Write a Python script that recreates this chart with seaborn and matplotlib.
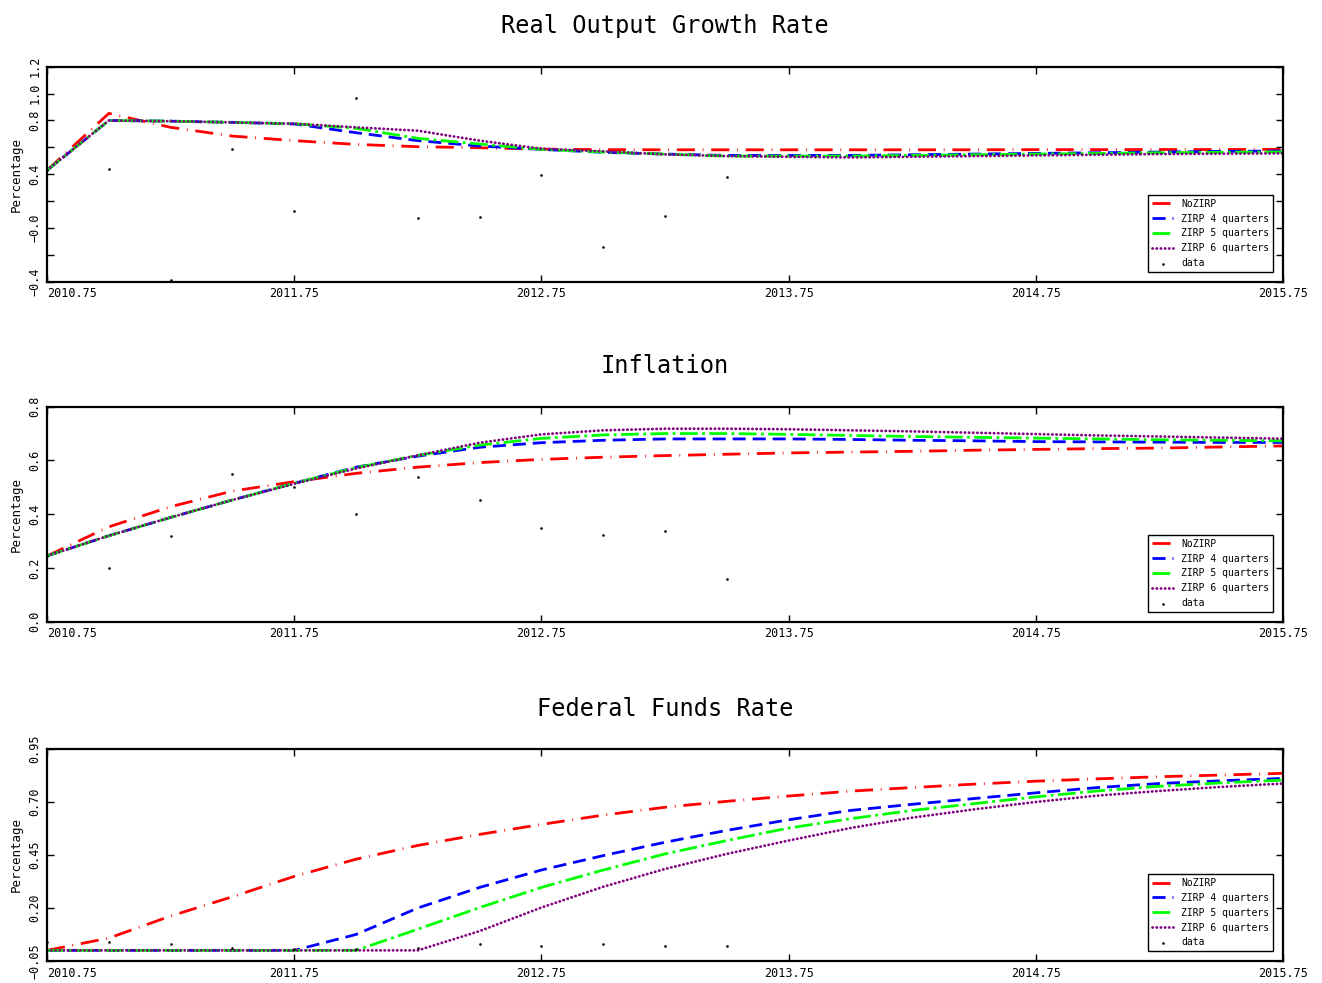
import numpy as np
import pandas as pd
import matplotlib
matplotlib.use("Agg")
import matplotlib.pyplot as plt
import seaborn as sns

# quarters of the simulation
quarters = [2010.75, 2011.0, 2011.25, 2011.5, 2011.75, 2012.0, 2012.25, 2012.5,
            2012.75, 2013.0, 2013.25, 2013.5, 2013.75, 2014.0, 2014.25, 2014.5,
            2014.75, 2015.0, 2015.25, 2015.5, 2015.75]
data_quarters = [2010.75, 2011.0, 2011.25, 2011.5, 2011.75, 2012.0, 2012.25,
                 2012.5, 2012.75, 2013.0, 2013.25, 2013.5]

series_names = ["NoZIRP", "ZIRP 4 quarters", "ZIRP 5 quarters", "ZIRP 6 quarters"]

# Real output growth rate
output_nozirp = [0.43, 0.853, 0.749, 0.684, 0.65, 0.622, 0.605, 0.597, 0.587, 0.583, 0.582,
                 0.582, 0.582, 0.582, 0.582, 0.582, 0.583, 0.583, 0.584, 0.584, 0.585]
output_zirp4 = [0.43, 0.80, 0.795, 0.786, 0.774, 0.709, 0.65, 0.61, 0.585, 0.563, 0.55,
                0.54, 0.54, 0.54, 0.545, 0.55, 0.555, 0.56, 0.565, 0.57, 0.573]
output_zirp5 = [0.43, 0.80, 0.795, 0.786, 0.776, 0.742, 0.667, 0.625, 0.585, 0.565, 0.55,
                0.535, 0.535, 0.535, 0.54, 0.545, 0.55, 0.555, 0.56, 0.563, 0.566]
output_zirp6 = [0.43, 0.80, 0.795, 0.786, 0.776, 0.749, 0.724, 0.65, 0.59, 0.57, 0.548,
                0.535, 0.53, 0.525, 0.53, 0.535, 0.54, 0.545, 0.55, 0.553, 0.555]
output_data = [0.43, 0.439, -0.387, 0.585, 0.126, 0.965, 0.072, 0.082, 0.392, -0.139,
               0.091, 0.379]

# Inflation
infl_nozirp = [0.245, 0.353, 0.428, 0.486, 0.521, 0.552, 0.575, 0.592, 0.604, 0.612, 0.618,
               0.623, 0.628, 0.631, 0.634, 0.638, 0.641, 0.644, 0.646, 0.650, 0.654]
infl_zirp4 = [0.245, 0.32, 0.388, 0.453, 0.515, 0.575, 0.616, 0.649, 0.666, 0.675, 0.680,
              0.680, 0.680, 0.678, 0.675, 0.673, 0.670, 0.669, 0.668, 0.667, 0.667]
infl_zirp5 = [0.245, 0.32, 0.388, 0.453, 0.515, 0.573, 0.619, 0.657, 0.682, 0.695, 0.700,
              0.700, 0.697, 0.693, 0.689, 0.686, 0.683, 0.680, 0.677, 0.675, 0.673]
infl_zirp6 = [0.245, 0.32, 0.388, 0.453, 0.513, 0.570, 0.619, 0.666, 0.697, 0.712, 0.718,
              0.718, 0.716, 0.712, 0.708, 0.703, 0.698, 0.693, 0.689, 0.685, 0.681]
infl_data = [0.245, 0.201, 0.32, 0.55, 0.502, 0.40, 0.537, 0.453, 0.35, 0.321, 0.336, 0.158]

# Federal funds rate
ffr_nozirp = [0.0, 0.058, 0.162, 0.253, 0.349, 0.43, 0.495, 0.547, 0.594, 0.638, 0.675,
              0.703, 0.728, 0.751, 0.768, 0.784, 0.798, 0.809, 0.819, 0.827, 0.835]
ffr_zirp4 = [0.0, 0.0, 0.0, 0.0, 0.0, 0.075, 0.20, 0.297, 0.379, 0.447, 0.51,
             0.566, 0.616, 0.66, 0.689, 0.716, 0.743, 0.768, 0.787, 0.80, 0.811]
ffr_zirp5 = [0.0, 0.0, 0.0, 0.0, 0.0, 0.0, 0.10, 0.202, 0.297, 0.379, 0.455,
             0.518, 0.577, 0.621, 0.66, 0.692, 0.724, 0.752, 0.774, 0.79, 0.803]
ffr_zirp6 = [0.0, 0.0, 0.0, 0.0, 0.0, 0.0, 0.0, 0.091, 0.202, 0.30, 0.384,
             0.455, 0.518, 0.577, 0.626, 0.665, 0.70, 0.73, 0.752, 0.771, 0.787]
ffr_data = [0.039, 0.039, 0.028, 0.012, 0.008, 0.007, 0.013, 0.028, 0.023, 0.028, 0.023, 0.02]

xtick_vals = [2010.75, 2011.75, 2012.75, 2013.75, 2014.75, 2015.75]
xtick_labels = ["2010.75", "2011.75", "2012.75", "2013.75", "2014.75", "2015.75"]

colors = ["#ff0000", "#0000ff", "#00ff00", "#800080"]
styles = [(0, (6.5, 2.8, 0.3, 2.8)), (0, (4.7, 2.5)), "-.", (0, (0.1, 1.4))]
caps = ["butt", "butt", "butt", "round"]

sns.set_style("ticks")
plt.rcParams["font.family"] = ["DejaVu Sans Mono"]
plt.rcParams["text.color"] = "black"
plt.rcParams["axes.labelcolor"] = "black"
plt.rcParams["xtick.color"] = "black"
plt.rcParams["ytick.color"] = "black"


def draw_panel(ax, title, lines, data, yticks, ylabels, ylim):
    for name, vals, c, ls, cap in zip(series_names, lines, colors, styles, caps):
        sns.lineplot(x=quarters, y=vals, ax=ax, color=c, linestyle=ls, lw=2,
                     dash_capstyle=cap, label=name)
    sns.scatterplot(x=data_quarters, y=data, ax=ax, color="black", marker=".", s=14,
                    linewidth=0, label="data", zorder=3)
    ax.set_xlim(2010.75, 2015.75)
    ax.set_ylim(*ylim)
    ax.set_yticks(yticks)
    ax.set_yticklabels(ylabels, rotation=90, va="center", fontsize=8.5)
    ax.set_xticks(xtick_vals)
    ax.set_xticklabels(xtick_labels, fontsize=8.5)
    ax.get_xticklabels()[0].set_horizontalalignment("left")
    ax.set_ylabel("Percentage", fontsize=9, labelpad=4)
    ax.set_title(title, fontsize=17, pad=24)
    ax.tick_params(direction="in", top=True, right=True, length=5, width=1, pad=4)
    for sp in ax.spines.values():
        sp.set_linewidth(1.6)
        sp.set_color("black")
    leg = ax.legend(loc="lower right", fontsize=7, borderaxespad=1.0, fancybox=False,
                    framealpha=1, edgecolor="black", handlelength=2.2, scatterpoints=1)
    leg.get_frame().set_linewidth(1.0)


fig = plt.figure(figsize=(13.22, 9.83), dpi=100)
ax1 = fig.add_axes([0.0356, 0.7134, 0.9349, 0.2187])
ax2 = fig.add_axes([0.0356, 0.3675, 0.9349, 0.2188])
ax3 = fig.add_axes([0.0356, 0.0224, 0.9349, 0.2157])

draw_panel(ax1, "Real Output Growth Rate",
           [output_nozirp, output_zirp4, output_zirp5, output_zirp6], output_data,
           [-0.4, -0.2, 0.0, 0.2, 0.4, 0.6, 0.8, 1.0, 1.2],
           ["\u22120.4", "", "\u22120.0", "", "0.4", "", "0.8", "1.0", "1.2"],
           (-0.4, 1.2))
draw_panel(ax2, "Inflation",
           [infl_nozirp, infl_zirp4, infl_zirp5, infl_zirp6], infl_data,
           [0.0, 0.2, 0.4, 0.6, 0.8],
           ["0.0", "0.2", "0.4", "0.6", "0.8"],
           (0.0, 0.8))
draw_panel(ax3, "Federal Funds Rate",
           [ffr_nozirp, ffr_zirp4, ffr_zirp5, ffr_zirp6], ffr_data,
           [-0.05, 0.20, 0.45, 0.70, 0.95],
           ["\u22120.05", "0.20", "0.45", "0.70", "0.95"],
           (-0.05, 0.95))

fig.savefig("out.png", dpi=100)
